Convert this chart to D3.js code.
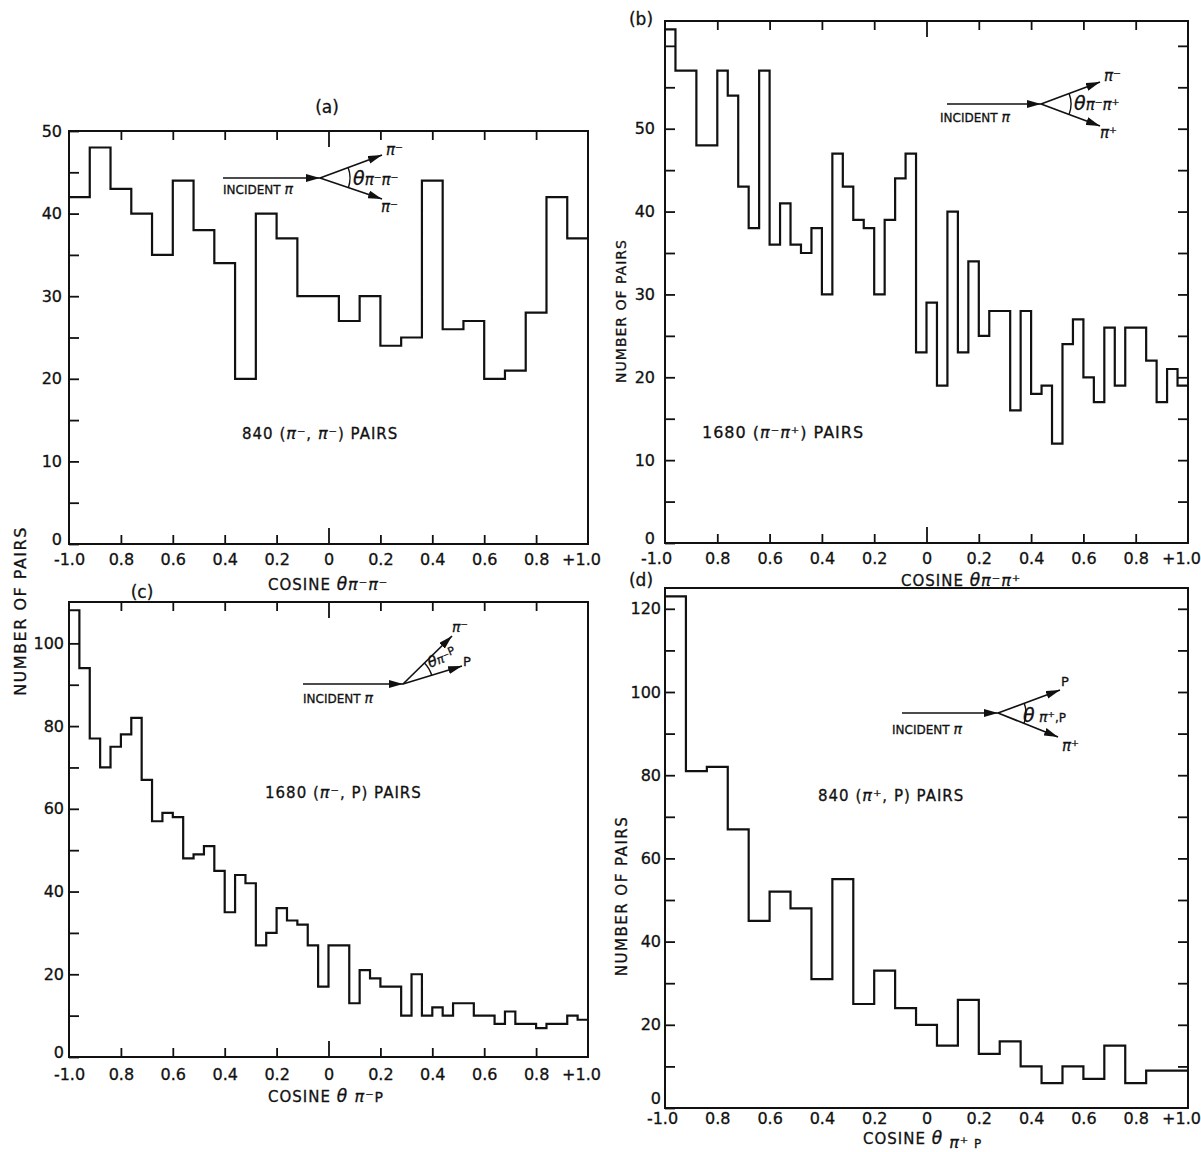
<!DOCTYPE html>
<html>
<head>
<meta charset="utf-8">
<script src="https://cdn.jsdelivr.net/npm/d3@7"></script>
<style>
  body { margin: 0; background: #fff; }
  svg { display: block; }
  text { font-family: "DejaVu Sans", sans-serif; fill: #111; stroke: #111; stroke-width: 0.3; }
</style>
</head>
<body>
<svg id="chart" width="1201" height="1152"></svg>
<script>
// cosine axis, shared by all four panels
const xTickValues = [-1, -0.8, -0.6, -0.4, -0.2, 0, 0.2, 0.4, 0.6, 0.8, 1];
const xTickLabels = ["-1.0", "0.8", "0.6", "0.4", "0.2", "0", "0.2", "0.4", "0.6", "0.8", "+1.0"];

// counts per bin (bins run from -1 to +1)
const countsA = [42, 48, 43, 40, 35, 44, 38, 34, 20, 40, 37, 30, 30, 27, 30, 24, 25, 44, 26, 27, 20, 21, 28, 42, 37];
const countsB = [62, 57, 57, 48, 48, 57, 54, 43, 38, 57, 36, 41, 36, 35, 38, 30, 47, 43, 39, 38,
  30, 39, 44, 47, 23, 29, 19, 40, 23, 34, 25, 28, 28, 16, 28, 18, 19, 12, 24, 27,
  20, 17, 26, 19, 26, 26, 22, 17, 21, 19];
const countsC = [108, 94, 77, 70, 75, 78, 82, 67, 57, 59, 58, 48, 49, 51, 45, 35, 44, 42, 27, 30,
  36, 33, 32, 27, 17, 27, 27, 13, 21, 19, 17, 17, 10, 20, 10, 12, 10, 13, 13, 10,
  10, 8, 11, 8, 8, 7, 8, 8, 10, 9];
const countsD = [123, 81, 82, 67, 45, 52, 48, 31, 55, 25, 33, 24, 20, 15, 26, 13, 16, 10, 6, 10, 7, 15, 6, 9, 9];

// y ticks
const yMajorA = [0, 10, 20, 30, 40, 50];
const yMinorA = [5, 15, 25, 35, 45];
const yMajorB = [0, 10, 20, 30, 40, 50];
const yMinorB = [5, 15, 25, 35, 45, 55, 60];
const yRightB = [5, 10, 15, 20, 25, 30, 35, 40, 45, 50, 55, 60];
const yMajorC = [0, 20, 40, 60, 80, 100];
const yMinorC = [10, 30, 50, 70, 90];
const yMajorD = [0, 20, 40, 60, 80, 100, 120];
const yMinorD = [10, 30, 50, 70, 90, 110];
const yRightD = [10, 20, 30, 40, 50, 60, 70, 80, 90, 100, 110, 120];

const svg = d3.select("#chart");
const ink = "#111";

svg.append("defs").append("marker")
  .attr("id", "arrow")
  .attr("viewBox", "0 0 14 8")
  .attr("refX", 14).attr("refY", 4)
  .attr("markerWidth", 14).attr("markerHeight", 8)
  .attr("markerUnits", "userSpaceOnUse")
  .attr("orient", "auto")
  .append("path").attr("d", "M0,0 L14,4 L0,8 z").attr("fill", ink);

const panels = [
  { counts: countsA, yMax: 50, left: 69, right: 588, top: 131, bottom: 544,
    yMajor: yMajorA, yMinor: yMinorA, yRight: null, xTicks: true, xPad: 10, yPad: 7, firstDx: 0, zeroLift: -5 },
  { counts: countsB, yMax: 63, left: 665, right: 1188, top: 21, bottom: 543,
    yMajor: yMajorB, yMinor: yMinorB, yRight: yRightB, xTicks: true, xPad: 10, yPad: 10, firstDx: -9, zeroLift: -5 },
  { counts: countsC, yMax: 110, left: 69, right: 588, top: 602, bottom: 1057,
    yMajor: yMajorC, yMinor: yMinorC, yRight: null, xTicks: true, xPad: 12, yPad: 5, firstDx: 0, zeroLift: -5 },
  { counts: countsD, yMax: 125, left: 665, right: 1188, top: 588, bottom: 1108,
    yMajor: yMajorD, yMinor: yMinorD, yRight: yRightD, xTicks: false, xPad: 5, yPad: 4, firstDx: -3, zeroLift: -10 },
];

const styleAxis = (g) => {
  g.select(".domain").remove();
  g.selectAll("line").attr("stroke", ink).attr("stroke-width", 1.8);
  g.selectAll("text").attr("font-size", 16).attr("fill", ink)
    .style("font-family", '"DejaVu Sans", sans-serif');
};

panels.forEach((p) => {
  const x = d3.scaleLinear().domain([-1, 1]).range([p.left, p.right]);
  const y = d3.scaleLinear().domain([0, p.yMax]).range([p.bottom, p.top]);
  const g = svg.append("g");

  // bottom axis (ticks point inward)
  const xb = g.append("g").attr("transform", `translate(0,${p.bottom})`)
    .call(d3.axisBottom(x).tickValues(xTickValues)
      .tickFormat((d, i) => xTickLabels[i])
      .tickSizeInner(p.xTicks ? -9 : 0).tickSizeOuter(0).tickPadding(p.xPad))
    .call(styleAxis);
  xb.selectAll(".tick").filter((d) => d === 0).select("line").attr("y2", p.xTicks ? -16 : 0);
  xb.selectAll(".tick").filter((d) => d === -1 || d === 1).select("line").remove();
  xb.selectAll(".tick").filter((d) => d === -1).select("text").attr("dx", p.firstDx);
  xb.selectAll(".tick").filter((d) => d === 1).select("text").attr("dx", -7);

  if (p.xTicks) {
    const xt = g.append("g").attr("transform", `translate(0,${p.top})`)
      .call(d3.axisTop(x).tickValues(xTickValues.slice(1, -1))
        .tickFormat("").tickSizeInner(-9).tickSizeOuter(0))
      .call(styleAxis);
    xt.selectAll(".tick").filter((d) => d === 0).select("line").attr("y2", 16);
  }

  // left axis
  const yl = g.append("g").attr("transform", `translate(${p.left},0)`)
    .call(d3.axisLeft(y).tickValues(p.yMajor).tickFormat(d3.format("d"))
      .tickSizeInner(-10).tickSizeOuter(0).tickPadding(p.yPad))
    .call(styleAxis);
  yl.selectAll(".tick").filter((d) => d === 0).select("text").attr("y", p.zeroLift);
  g.append("g").attr("transform", `translate(${p.left},0)`)
    .call(d3.axisLeft(y).tickValues(p.yMinor).tickFormat("")
      .tickSizeInner(-10).tickSizeOuter(0))
    .call(styleAxis);

  if (p.yRight) {
    g.append("g").attr("transform", `translate(${p.right},0)`)
      .call(d3.axisRight(y).tickValues(p.yRight).tickFormat("")
        .tickSizeInner(-10).tickSizeOuter(0))
      .call(styleAxis);
  }

  // frame
  g.append("rect")
    .attr("x", p.left).attr("y", p.top)
    .attr("width", p.right - p.left).attr("height", p.bottom - p.top)
    .attr("fill", "none").attr("stroke", ink).attr("stroke-width", 2);

  // histogram outline
  const n = p.counts.length;
  const edges = d3.range(n + 1).map((i) => -1 + (2 * i) / n);
  const pts = p.counts.map((c, i) => [edges[i], c]).concat([[1, p.counts[n - 1]]]);
  const line = d3.line().x((d) => x(d[0])).y((d) => y(d[1])).curve(d3.curveStepAfter);
  g.append("path").attr("d", line(pts))
    .attr("fill", "none").attr("stroke", ink).attr("stroke-width", 2.2);
});

// text helper, parts: [text, dy, size, italic]
const label = (x, y, parts, opts = {}) => {
  const t = svg.append("text").attr("x", x).attr("y", y)
    .attr("font-size", opts.size || 15)
    .attr("text-anchor", opts.anchor || "start");
  if (opts.spacing) t.attr("letter-spacing", opts.spacing);
  if (opts.rotate) t.attr("transform", `rotate(${opts.rotate},${x},${y})`);
  parts.forEach((pt) => {
    const s = t.append("tspan").text(pt[0]);
    if (pt[1]) s.attr("dy", pt[1]);
    if (pt[2]) s.attr("font-size", pt[2]);
    if (pt[3]) s.attr("font-style", "italic");
  });
  return t;
};

// panel letters
label(327, 113, [["(a)"]], { size: 17, anchor: "middle" });
label(641, 25, [["(b)"]], { size: 17, anchor: "middle" });
label(142, 598, [["(c)"]], { size: 17, anchor: "middle" });
label(641, 586, [["(d)"]], { size: 17, anchor: "middle" });

// y titles
label(26, 611, [["NUMBER OF PAIRS"]], { size: 16, anchor: "middle", rotate: -90, spacing: 1.5 });
label(626, 311, [["NUMBER OF PAIRS"]], { size: 14, anchor: "middle", rotate: -90, spacing: 1 });
label(627, 896, [["NUMBER OF PAIRS"]], { size: 15, anchor: "middle", rotate: -90, spacing: 1.5 });

// x titles
label(268, 590, [["COSINE "], ["θ", 0, 17, 1], ["π⁻π⁻", 0, 16, 1]], { size: 15, spacing: 1 });
label(901, 586, [["COSINE "], ["θ", 0, 17, 1], ["π⁻π⁺", 0, 16, 1]], { size: 15, spacing: 1 });
label(268, 1102, [["COSINE "], ["θ ", 0, 17, 1], ["π⁻", 0, 16, 1], ["P", 0, 14]], { size: 15, spacing: 1 });
label(863, 1144, [["COSINE "], ["θ", 0, 17, 1], [" π⁺", 4, 16, 1], [" P", 0, 12]], { size: 15, spacing: 1 });

// pair counts
label(242, 439, [["840 ("], ["π⁻", 0, 16, 1], [", "], ["π⁻", 0, 16, 1], [") PAIRS"]], { size: 15, spacing: 1 });
label(702, 438, [["1680 ("], ["π⁻π⁺", 0, 16, 1], [") PAIRS"]], { size: 16, spacing: 1 });
label(265, 798, [["1680 ("], ["π⁻", 0, 16, 1], [", P) PAIRS"]], { size: 15, spacing: 1 });
label(818, 801, [["840 ("], ["π⁺", 0, 16, 1], [", P) PAIRS"]], { size: 15, spacing: 1 });

// reaction sketches
const sketch = (s) => {
  const g = svg.append("g");
  const arrow = (x1, y1, x2, y2) => g.append("line")
    .attr("x1", x1).attr("y1", y1).attr("x2", x2).attr("y2", y2)
    .attr("stroke", ink).attr("stroke-width", 1.7).attr("marker-end", "url(#arrow)");
  arrow(s.x0, s.vy, s.vx, s.vy);
  arrow(s.vx, s.vy, s.ux, s.uy);
  arrow(s.vx, s.vy, s.lx, s.ly);
  const a1 = Math.atan2(s.uy - s.vy, s.ux - s.vx);
  const a2 = Math.atan2(s.ly - s.vy, s.lx - s.vx);
  const pt = (a) => [s.vx + s.r * Math.cos(a), s.vy + s.r * Math.sin(a)];
  const [p1, p2] = [pt(a1), pt(a2)];
  g.append("path")
    .attr("d", `M${p1[0]},${p1[1]} A${s.r},${s.r} 0 0 1 ${p2[0]},${p2[1]}`)
    .attr("fill", "none").attr("stroke", ink).attr("stroke-width", 1.4);
};

sketch({ x0: 223, vx: 320, vy: 178, ux: 382, uy: 155, lx: 382, ly: 199, r: 30 });
label(223, 194, [["INCIDENT "], ["π", 0, 14, 1]], { size: 12 });
label(386, 155, [["π⁻", 0, 15, 1]], { size: 15 });
label(381, 212, [["π⁻", 0, 15, 1]], { size: 15 });
label(353, 185, [["θ", 0, 19, 1], ["π⁻π⁻", 0, 15, 1]], { size: 15 });

sketch({ x0: 947, vx: 1041, vy: 104, ux: 1100, uy: 82, lx: 1100, ly: 126, r: 30 });
label(940, 122, [["INCIDENT "], ["π", 0, 14, 1]], { size: 12 });
label(1104, 81, [["π⁻", 0, 15, 1]], { size: 15 });
label(1100, 138, [["π⁺", 0, 15, 1]], { size: 15 });
label(1074, 110, [["θ", 0, 19, 1], ["π⁻π⁺", 0, 15, 1]], { size: 15 });

sketch({ x0: 303, vx: 403, vy: 684, ux: 452, uy: 636, lx: 462, ly: 666, r: 30 });
label(303, 703, [["INCIDENT "], ["π", 0, 14, 1]], { size: 12 });
label(452, 632, [["π⁻", 0, 14, 1]], { size: 14 });
label(463, 666, [["P"]], { size: 13 });
label(430, 668, [["θ", 0, 15, 1], ["π⁻", 0, 12, 1], ["P", -4, 11]], { size: 13, rotate: -22 });

sketch({ x0: 902, vx: 998, vy: 713, ux: 1060, uy: 690, lx: 1058, ly: 737, r: 28 });
label(892, 734, [["INCIDENT "], ["π", 0, 14, 1]], { size: 12 });
label(1061, 686, [["P"]], { size: 13 });
label(1062, 751, [["π⁺", 0, 15, 1]], { size: 15 });
label(1023, 722, [["θ", 0, 19, 1], [" π⁺", 0, 14, 1], [",P", 0, 12]], { size: 15 });
</script>
</body>
</html>
